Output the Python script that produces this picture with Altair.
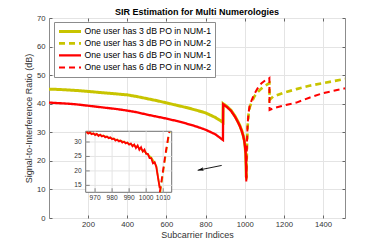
import altair as alt
import pandas as pd

# ---------------- data ----------------
series_names = [
    "One user has 3 dB PO in NUM-1",
    "One user has 3 dB PO in NUM-2",
    "One user has 6 dB PO in NUM-1",
    "One user has 6 dB PO in NUM-2",
]
colors = ["#C8C400", "#C8C400", "#FF0000", "#FF0000"]
dashes = [[1, 0], [6, 4], [1, 0], [6, 4]]
widths = [3.0, 2.0, 3.6, 2.0]

x_num1 = [1, 50, 100, 150, 200, 250, 300, 350, 400, 450, 500, 550, 600, 650, 700,
          750, 800, 850, 889, 890, 910, 930, 950, 965, 975, 985, 992, 998, 1002,
          1005, 1007, 1008]
y_3db_num1 = [45.1, 45.0, 44.8, 44.6, 44.3, 44.0, 43.7, 43.4, 43.1, 42.5, 41.8, 41.1,
              40.3, 39.5, 38.7, 37.8, 36.8, 35.2, 33.5, 40.0, 39.0, 37.7, 35.7, 33.8,
              32.4, 30.6, 29.0, 27.2, 25.0, 22.7, 18.2, 14.3]
y_6db_num1 = [40.4, 40.2, 40.0, 39.7, 39.3, 38.9, 38.5, 38.1, 37.6, 37.0, 36.2, 35.5,
              34.8, 34.0, 33.1, 32.1, 30.9, 29.3, 27.3, 39.8, 38.8, 37.5, 35.5, 33.6,
              32.2, 30.4, 28.8, 27.0, 24.8, 22.5, 18.0, 14.0]

x_3db_num2 = [1008.5, 1010, 1012, 1015, 1020, 1026, 1034, 1050, 1068, 1085, 1103, 1126,
              1127, 1145, 1200, 1264, 1330, 1400, 1460, 1512]
y_3db_num2 = [13.5, 19.5, 26.0, 32.0, 36.5, 38.8, 40.3, 42.6, 44.2, 45.3, 46.2, 47.2,
              41.3, 42.5, 43.9, 45.1, 46.3, 47.2, 48.0, 48.7]
x_6db_num2 = [1008, 1010, 1012, 1015, 1020, 1026, 1046, 1065, 1086, 1105, 1119, 1126,
              1127, 1150, 1200, 1264, 1330, 1400, 1460, 1512]
y_6db_num2 = [12.8, 21.0, 27.3, 33.0, 37.0, 39.6, 43.0, 45.3, 47.2, 48.2, 48.6, 49.0,
              37.8, 38.5, 39.4, 40.4, 42.1, 43.7, 44.6, 45.4]

# inset (zoom of 965..1015)
ins_x_red = list(range(965, 1009))
ins_y_red = [33.5, 32.9, 33.3, 32.7, 33.0, 32.4, 32.8, 32.1, 32.5, 31.9, 32.2, 31.6,
             31.9, 31.3, 31.6, 31.0, 31.2, 30.5, 30.8, 30.2, 30.5, 29.8, 30.1, 29.5,
             29.8, 29.1, 29.5, 28.5, 29.1, 27.9, 28.8, 27.3, 28.2, 26.7, 27.4, 25.9,
             25.9, 24.4, 24.4, 22.6, 23.0, 21.3, 17.5, 14.0]
ins_x_yel = [965, 970, 975, 980, 985, 990, 995, 1000, 1003, 1005, 1006, 1007, 1008]
ins_y_yel = [33.3, 32.7, 32.1, 31.2, 30.4, 29.4, 28.3, 26.2, 24.6, 22.8, 21.6, 17.8, 14.3]
ins_x_red2 = [1008, 1009, 1010, 1011, 1012, 1013, 1013.6]
ins_y_red2 = [12.6, 16.5, 20.5, 24.5, 28.3, 31.8, 33.5]
ins_x_yel2 = [1008.3, 1009.3, 1010.3, 1011.3, 1012.3, 1013.3, 1013.9]
ins_y_yel2 = [12.6, 16.8, 20.8, 24.8, 28.6, 32.2, 33.5]

x_ticks = [200, 400, 600, 800, 1000, 1200, 1400]
y_ticks = [0, 10, 20, 30, 40, 50, 60, 70]
ins_x_ticks = [970, 980, 990, 1000, 1010]
ins_y_ticks = [15, 20, 25, 30]
ins_x_dom = [964.5, 1015]
ins_y_dom = [12.6, 33.7]

arrow_x = [882.6, 760]
arrow_y = [18.4, 16.7]

# ---------------- tables ----------------
def long(pairs):
    rows = []
    for name, xs, ys in pairs:
        for a, b in zip(xs, ys):
            rows.append({"x": a, "y": b, "series": name})
    return pd.DataFrame(rows)

main_df = long([
    (series_names[0], x_num1, y_3db_num1),
    (series_names[1], x_3db_num2, y_3db_num2),
    (series_names[2], x_num1, y_6db_num1),
    (series_names[3], x_6db_num2, y_6db_num2),
])
ins_df = long([
    (series_names[0], ins_x_yel, ins_y_yel),
    (series_names[1], ins_x_yel2, ins_y_yel2),
    (series_names[2], ins_x_red, ins_y_red),
    (series_names[3], ins_x_red2, ins_y_red2),
])

W, H = 296, 200
FONT = "Liberation Sans"
GRID = "#e4e4e4"
BOX = "#8c8c8c"
LAB = "#333333"

xs_main = alt.Scale(domain=[1, 1512], nice=False, zero=False)
ys_main = alt.Scale(domain=[0, 70], nice=False, zero=False)
ins_xs = alt.Scale(domain=ins_x_dom, range=[36.7, 122.7], nice=False, zero=False)
ins_ys = alt.Scale(domain=ins_y_dom, range=[174.3, 113.3], nice=False, zero=False)

leg = alt.Legend(title=None, orient="none", legendX=5, legendY=4)
color = alt.Color("series:N", scale=alt.Scale(domain=series_names, range=colors), legend=leg)
dash = alt.StrokeDash("series:N", scale=alt.Scale(domain=series_names, range=dashes), legend=leg)

lines = alt.Chart(main_df).mark_line().encode(
    x=alt.X("x:Q", scale=xs_main, title="Subcarrier Indices",
            axis=alt.Axis(orient="bottom", values=x_ticks, format="d", offset=-3, tickSize=3,
                          domain=False, labelPadding=2, titlePadding=3, grid=True,
                          minExtent=0)),
    y=alt.Y("y:Q", scale=ys_main, title="Signal-to-Interference Ratio (dB)",
            axis=alt.Axis(orient="left", values=y_ticks, format="d", offset=-3, tickSize=3,
                          domain=False, labelPadding=4, titlePadding=2.5, grid=True,
                          minExtent=0)),
    color=color,
    strokeDash=dash,
    strokeWidth=alt.StrokeWidth("series:N", scale=alt.Scale(domain=series_names, range=widths),
                                legend=None),
)

ticks_layer = alt.Chart(main_df).mark_point(opacity=0).encode(
    x=alt.X("x:Q", scale=xs_main,
            axis=alt.Axis(orient="top", values=x_ticks, offset=-3, tickSize=3, labels=False,
                          domain=False, grid=False, title=None, minExtent=0)),
    y=alt.Y("y:Q", scale=ys_main,
            axis=alt.Axis(orient="right", values=y_ticks, offset=-3, tickSize=3, labels=False,
                          domain=False, grid=False, title=None, minExtent=0)),
)

arrow_df = pd.DataFrame({"x0": [arrow_x[0]], "y0": [arrow_y[0]],
                         "x1": [arrow_x[1]], "y1": [arrow_y[1]]})
arrow_rule = alt.Chart(arrow_df).mark_rule(color="black", strokeWidth=0.9).encode(
    x=alt.X("x0:Q", scale=xs_main, axis=None), x2="x1:Q",
    y=alt.Y("y0:Q", scale=ys_main, axis=None), y2="y1:Q",
)
arrow_head = alt.Chart(arrow_df).mark_point(
    shape="M0,0L-2,-0.6L-1.6,0L-2,0.6Z", filled=True, color="black", size=36,
    angle=168, opacity=1,
).encode(
    x=alt.X("x1:Q", scale=xs_main, axis=None),
    y=alt.Y("y1:Q", scale=ys_main, axis=None),
)

main = alt.layer(lines, ticks_layer, arrow_rule, arrow_head).resolve_axis(
    x="independent", y="independent")

# ---------------- inset ----------------
bg_df = pd.DataFrame({"x0": [ins_x_dom[0]], "x1": [ins_x_dom[1]],
                      "y0": [ins_y_dom[0]], "y1": [ins_y_dom[1]]})
inset_bg = alt.Chart(bg_df).mark_rect(fill="white", stroke="#707070", strokeWidth=1).encode(
    x=alt.X("x0:Q", scale=ins_xs, axis=None), x2="x1:Q",
    y=alt.Y("y0:Q", scale=ins_ys, axis=None), y2="y1:Q",
)
gx_df = pd.DataFrame({"v": ins_x_ticks, "lo": [ins_y_dom[0]] * len(ins_x_ticks),
                      "hi": [ins_y_dom[1]] * len(ins_x_ticks)})
gy_df = pd.DataFrame({"v": ins_y_ticks, "lo": [ins_x_dom[0]] * len(ins_y_ticks),
                      "hi": [ins_x_dom[1]] * len(ins_y_ticks)})
inset_gx = alt.Chart(gx_df).mark_rule(color=GRID, strokeWidth=1).encode(
    x=alt.X("v:Q", scale=ins_xs, axis=None),
    y=alt.Y("lo:Q", scale=ins_ys, axis=None), y2="hi:Q",
)
inset_gy = alt.Chart(gy_df).mark_rule(color=GRID, strokeWidth=1).encode(
    y=alt.Y("v:Q", scale=ins_ys, axis=None),
    x=alt.X("lo:Q", scale=ins_xs, axis=None), x2="hi:Q",
)
# inset tick marks and tick labels (through the inset scales)
inset_xtick = alt.Chart(gx_df).mark_tick(color="#555555", size=4, thickness=1,
                                         orient="vertical", yOffset=-2).encode(
    x=alt.X("v:Q", scale=ins_xs, axis=None),
    y=alt.Y("lo:Q", scale=ins_ys, axis=None),
)
inset_ytick = alt.Chart(gy_df).mark_tick(color="#555555", size=4, thickness=1,
                                         orient="horizontal", xOffset=2).encode(
    y=alt.Y("v:Q", scale=ins_ys, axis=None),
    x=alt.X("lo:Q", scale=ins_xs, axis=None),
)
inset_xlab = alt.Chart(gx_df).mark_text(fontSize=6.6, font=FONT, color=LAB,
                                        baseline="top", dy=3).encode(
    x=alt.X("v:Q", scale=ins_xs, axis=None),
    y=alt.Y("lo:Q", scale=ins_ys, axis=None),
    text=alt.Text("v:Q", format="d"),
)
inset_ylab = alt.Chart(gy_df).mark_text(fontSize=6.6, font=FONT, color=LAB,
                                        align="right", baseline="middle", dx=-4).encode(
    y=alt.Y("v:Q", scale=ins_ys, axis=None),
    x=alt.X("lo:Q", scale=ins_xs, axis=None),
    text=alt.Text("v:Q", format="d"),
)
inset_lines = alt.Chart(ins_df).mark_line(strokeWidth=1.8).encode(
    x=alt.X("x:Q", scale=ins_xs, axis=None),
    y=alt.Y("y:Q", scale=ins_ys, axis=None),
    color=color,
    strokeDash=dash,
)
inset = alt.layer(inset_bg, inset_gx, inset_gy, inset_xtick, inset_ytick,
                  inset_xlab, inset_ylab, inset_lines)

chart = alt.layer(main, inset).resolve_scale(x="independent", y="independent").properties(
    width=W, height=H,
    autosize=alt.AutoSizeParams(type="none"),
    padding={"left": 41, "top": 10, "right": 29, "bottom": 26},
    title=alt.TitleParams("SIR Estimation for Multi Numerologies", fontSize=9,
                          fontWeight="bold", font=FONT, color="#000000",
                          anchor="middle", offset=1.5, dy=4.5),
).configure(font=FONT).configure_view(
    stroke=BOX, strokeWidth=1
).configure_axis(
    labelFont=FONT, labelFontSize=7.7, labelColor=LAB,
    titleFont=FONT, titleFontSize=9, titleFontWeight="normal", titleColor=LAB,
    tickColor="#666666", gridColor=GRID, gridWidth=1,
).configure_legend(
    padding=3.5, fillColor="white", strokeColor=BOX,
    symbolType="stroke", symbolSize=484, symbolStrokeWidth=2,
    labelFont=FONT, labelFontSize=8.7, labelColor="#000000", labelOffset=2,
    rowPadding=0, clipHeight=11.8, cornerRadius=0, labelLimit=200,
)

chart.save("out.html", embed_options={"renderer": "svg", "actions": False})
